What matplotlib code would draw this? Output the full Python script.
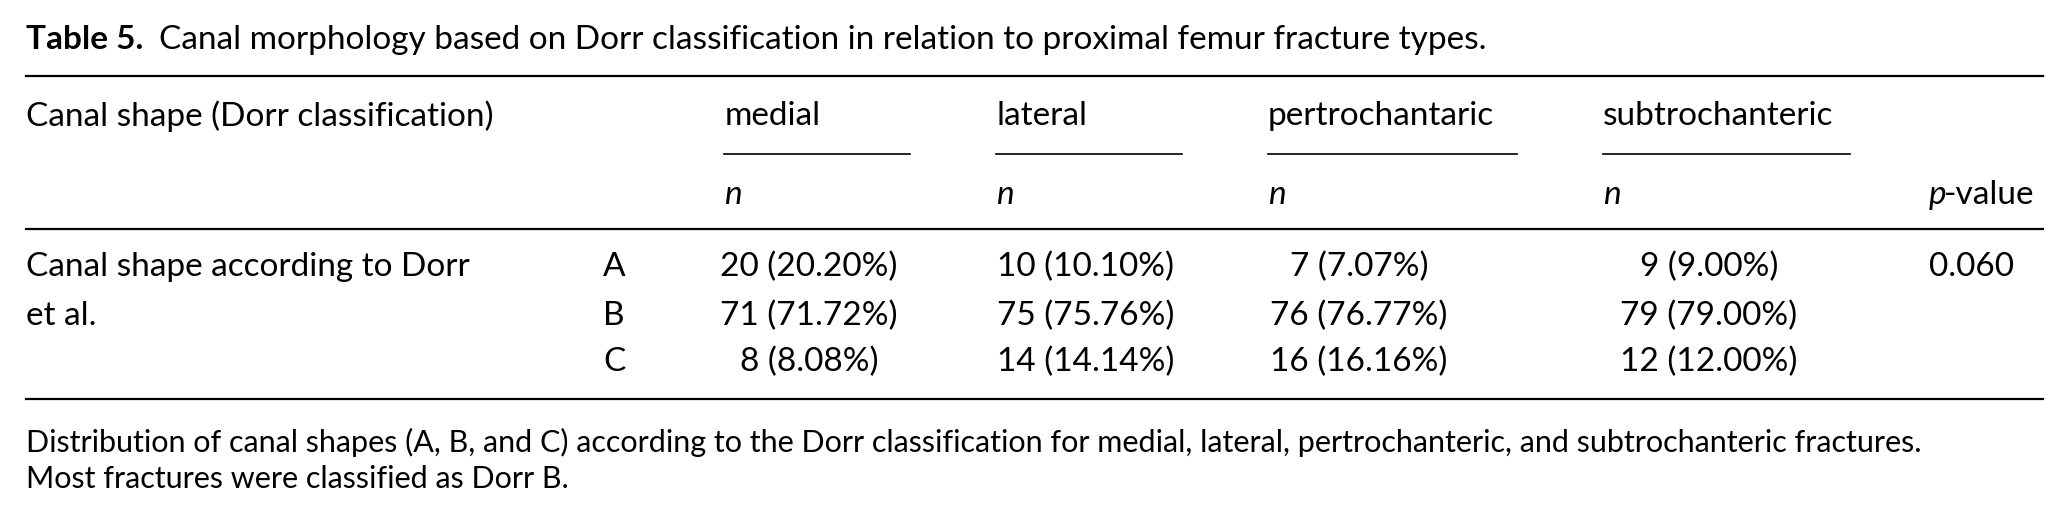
import matplotlib

matplotlib.use("Agg")

import matplotlib.pyplot as plt

plt.rcParams["font.family"] = ["Lato", "DejaVu Sans"]

title_bold = "Table 5."
title_rest = "Canal morphology based on Dorr classification in relation to proximal femur fracture types."
row_label = "Canal shape (Dorr classification)"
groups = ["medial", "lateral", "pertrochantaric", "subtrochanteric"]
group_x = [549, 755, 961, 1215]
group_line_end = [690, 896, 1150, 1402]
group_center = [613, 823, 1030, 1295]
classes = ["A", "B", "C"]
counts = [
    ["20 (20.20%)", "71 (71.72%)", "8 (8.08%)"],
    ["10 (10.10%)", "75 (75.76%)", "14 (14.14%)"],
    ["7 (7.07%)", "76 (76.77%)", "16 (16.16%)"],
    ["9 (9.00%)", "79 (79.00%)", "12 (12.00%)"],
]
p_value = "0.060"
footnote = [
    "Distribution of canal shapes (A, B, and C) according to the Dorr classification for medial, lateral, pertrochanteric, and subtrochanteric fractures.",
    "Most fractures were classified as Dorr B.",
]

W, H = 1565, 394
fig = plt.figure(figsize=(20.65, 5.19), dpi=100)
ax = fig.add_axes([0, 0, 1, 1])
ax.set_xlim(0, W)
ax.set_ylim(H, 0)
ax.axis("off")

fs = 24
t = ax.text(20, 30, title_bold, fontsize=fs, fontweight="bold", va="center")
fig.canvas.draw()
bb = t.get_window_extent().transformed(ax.transData.inverted())
ax.text(bb.x1 + 12, 30, title_rest, fontsize=fs, va="center")

for y in (58, 174, 303):
    ax.plot([20, 1548], [y, y], color="black", lw=1.6)

ax.text(20, 88, row_label, fontsize=fs, va="center")
for g, x0, x1 in zip(groups, group_x, group_line_end):
    ax.text(x0, 88, g, fontsize=fs, va="center")
    ax.plot([x0, x1], [117, 117], color="black", lw=1.2)
    ax.text(x0, 148, "n", fontsize=fs, va="center", style="italic")
ax.text(1462, 148, "p", fontsize=fs, va="center", style="italic")
ax.text(1473, 148, "-value", fontsize=fs, va="center")

row_y = [203, 240, 275]
ax.text(20, row_y[0], "Canal shape according to Dorr", fontsize=fs, va="center")
ax.text(20, row_y[1], "et al.", fontsize=fs, va="center")
for c, y in zip(classes, row_y):
    ax.text(457, y, c, fontsize=fs, va="center")
for xc, col in zip(group_center, counts):
    for val, y in zip(col, row_y):
        ax.text(xc, y, val, fontsize=fs, va="center", ha="center")
ax.text(1462, row_y[0], p_value, fontsize=fs, va="center")

for i, line in enumerate(footnote):
    ax.text(20, 364 - 28 + 28 * i + 0, line, fontsize=22, va="center") if False else \
        ax.text(20, 336 + 28 * i + 28 - 28 + 28 * 0 + (28 if False else 0), line, fontsize=22, va="center")

fig.savefig("out.png", dpi=100)
